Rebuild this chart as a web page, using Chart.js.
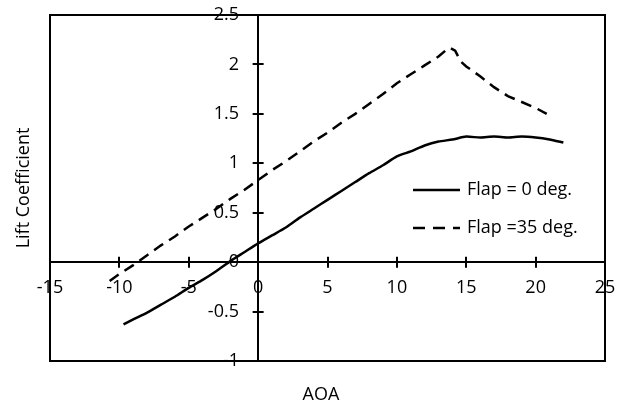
<!DOCTYPE html>
<html><head><meta charset="utf-8">
<script src="https://cdn.jsdelivr.net/npm/chart.js@4.4.1/dist/chart.umd.min.js"></script>
<style>html,body{margin:0;padding:0;background:#fff}#wrap{width:620px;height:405px}</style>
</head><body><div id="wrap"><canvas id="c" width="620" height="405"></canvas></div>
<script>
// ---- data ----
const aoaFlap0 = [-9.7,-9,-8,-7,-6,-5,-4,-3,-2,-1,0,1,2,3,4,5,6,7,8,9,10,11,12,13,14,15,16,17,18,19,20,21,22];
const clFlap0  = [-0.63,-0.58,-0.51,-0.43,-0.35,-0.26,-0.18,-0.09,0.01,0.10,0.19,0.27,0.35,0.45,0.54,0.63,0.72,0.81,0.90,0.98,1.07,1.12,1.18,1.22,1.24,1.27,1.26,1.27,1.26,1.27,1.26,1.24,1.21];
const aoaFlap35 = [-10.7,-10,-9,-8,-7,-6,-5,-4,-3,-2,-1,0,1,2,3,4,5,6,7,8,9,10,11,12,13,13.5,13.8,14.2,14.6,15,16,17,18,19,20,20.8];
const clFlap35  = [-0.19,-0.12,-0.03,0.07,0.17,0.26,0.36,0.45,0.54,0.64,0.73,0.83,0.93,1.02,1.12,1.22,1.31,1.41,1.50,1.60,1.70,1.81,1.90,1.99,2.08,2.14,2.17,2.14,2.03,1.98,1.88,1.77,1.68,1.62,1.56,1.50];
const seriesNames = ['Flap = 0 deg.', 'Flap =35 deg.'];
const xTickValues = [-15,-10,-5,0,5,10,15,20,25];
const yTickValues = [-1,-0.5,0,0.5,1,1.5,2,2.5];
const xTitle = 'AOA';
const yTitle = 'Lift Coefficient';

const FONT = '"Open Sans", Lato, sans-serif';
const FS = 18;
const toPts = (xs, ys) => xs.map((x, i) => ({x, y: ys[i]}));

const decor = {
  id: 'decor',
  beforeDraw(chart) {
    const ctx = chart.ctx;
    ctx.save(); ctx.fillStyle = '#fff'; ctx.fillRect(0, 0, chart.width, chart.height); ctx.restore();
  },
  afterDraw(chart) {
    const ctx = chart.ctx, a = chart.chartArea;
    const xs = chart.scales.x, ys = chart.scales.y;
    const x0 = xs.getPixelForValue(0), y0 = ys.getPixelForValue(0);
    ctx.save();
    ctx.strokeStyle = '#000'; ctx.lineWidth = 2;
    ctx.strokeRect(a.left, a.top, a.right - a.left, a.bottom - a.top);
    // crossing tick marks
    ctx.beginPath();
    xTickValues.forEach(v => { if (v === xs.min || v === xs.max) return; const p = Math.round(xs.getPixelForValue(v)); ctx.moveTo(p, y0 - 5.5); ctx.lineTo(p, y0 + 5.5); });
    yTickValues.forEach(v => { if (v === ys.min || v === ys.max || v === 0) return; const p = Math.round(ys.getPixelForValue(v)); ctx.moveTo(x0 - 5.5, p); ctx.lineTo(x0 + 5.5, p); });
    ctx.stroke();
    // legend
    ctx.font = FS + 'px ' + FONT; ctx.fillStyle = '#000'; ctx.textBaseline = 'middle'; ctx.textAlign = 'left';
    const rows = [{y: 190, dash: []}, {y: 228, dash: [12, 8]}];
    rows.forEach((r, i) => {
      ctx.lineWidth = 2.5; ctx.setLineDash(r.dash);
      ctx.beginPath(); ctx.moveTo(413, r.y); ctx.lineTo(460, r.y); ctx.stroke();
      ctx.setLineDash([]);
      ctx.fillText(seriesNames[i], 467, r.y);
    });
    // axis titles
    ctx.textAlign = 'center';
    ctx.fillText(xTitle, 321, 395);
    ctx.translate(24, 188); ctx.rotate(-Math.PI / 2);
    ctx.fillText(yTitle, 0, 0);
    ctx.restore();
  }
};

const tickFont = {family: FONT, size: FS};
new Chart(document.getElementById('c'), {
  type: 'scatter',
  data: {
    datasets: [
      {label: seriesNames[0], data: toPts(aoaFlap0, clFlap0), showLine: true, borderColor: '#000', borderWidth: 2.5, pointRadius: 0, tension: 0.2, fill: false, yAxisID: 'y'},
      {label: seriesNames[1], data: toPts(aoaFlap35, clFlap35), showLine: true, borderColor: '#000', borderWidth: 2.5, borderDash: [11, 7], pointRadius: 0, tension: 0, fill: false, yAxisID: 'y'}
    ]
  },
  options: {
    responsive: false, devicePixelRatio: 1, animation: false,
    layout: {padding: {left: 50, top: 15, right: 15, bottom: 44}},
    plugins: {legend: {display: false}, tooltip: {enabled: false}, title: {display: false}},
    scales: {
      x: {
        type: 'linear', min: -15, max: 25, position: {y: 0},
        afterBuildTicks: s => { s.ticks = xTickValues.map(v => ({value: v})); },
        ticks: {color: '#000', font: tickFont, padding: 0, maxRotation: 0, autoSkip: false, callback: v => String(v)},
        grid: {display: false, drawOnChartArea: false, drawTicks: true, tickLength: 15},
        border: {display: true, color: '#000', width: 2}
      },
      y: {
        type: 'linear', min: -1, max: 2.5, position: {x: 0},
        afterBuildTicks: s => { s.ticks = yTickValues.map(v => ({value: v})); },
        ticks: {display: false},
        grid: {display: false, drawTicks: false},
        border: {display: true, color: '#000', width: 2}
      },
      yLabels: {
        type: 'linear', min: -1, max: 2.5, position: {x: -1.38},
        afterBuildTicks: s => { s.ticks = yTickValues.map(v => ({value: v})); },
        ticks: {color: '#000', font: tickFont, padding: 0, autoSkip: false, callback: v => String(v)},
        grid: {display: false, drawTicks: false},
        border: {display: false}
      }
    }
  },
  plugins: [decor]
});
</script>
</body></html>
